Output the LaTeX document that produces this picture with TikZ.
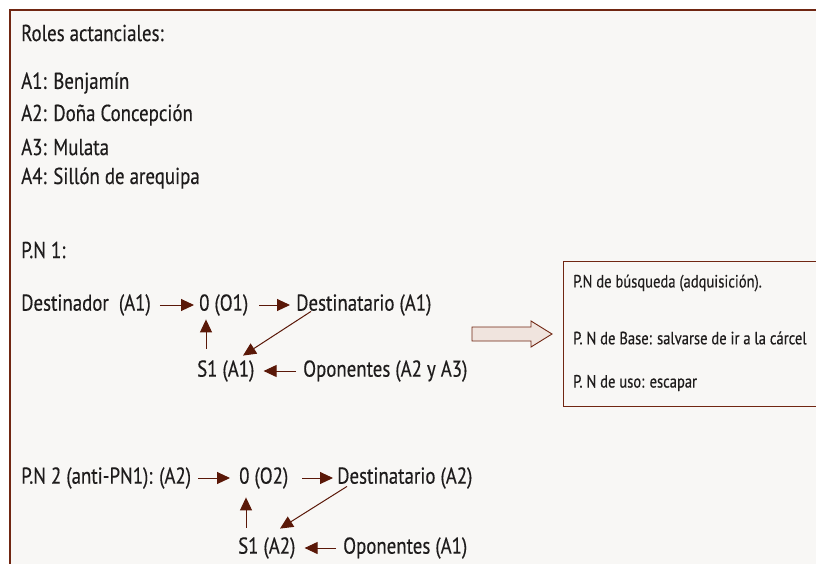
\documentclass[tikz,border=0pt]{standalone}
\usepackage{fontspec}
\setmainfont[FakeStretch=0.82,FakeBold=0.35]{PT Sans}
\usetikzlibrary{arrows.meta}
\usetikzlibrary{calc}
\definecolor{framebrown}{RGB}{112,38,18}
\definecolor{arrowbrown}{RGB}{90,24,8}
\definecolor{paper}{RGB}{248,247,245}
\definecolor{tan}{RGB}{240,228,222}
\definecolor{inkgray}{RGB}{30,28,28}
\tikzset{
    txt/.style={anchor=west, inner sep=0pt, text=inkgray, font=\fontsize{23}{27}\selectfont},
    smalltxt/.style={anchor=west, inner sep=0pt, text=inkgray, font=\fontsize{17.8}{21}\selectfont},
    arr/.style={draw=arrowbrown, line width=1pt, -{Triangle[length=13pt,width=12pt]}}
}
\begin{document}
\begin{tikzpicture}[x=1pt, y=-1pt]
            \useasboundingbox (0,0) rectangle (816,563);
            % Paper and frame
            \fill[paper] (10,10) rectangle (830,580);
            \draw[framebrown, line width=2.6pt] (10,580) -- (10,10) -- (830,10);

            % Roles
            \node[txt] (roles) at (21,33) {Roles actanciales:};
            \node[txt] (a1) at (21,83) {A1: Benjamín};
            \node[txt] (a2) at (21,115) {A2: Doña Concepción};
            \node[txt] (a3) at (21,147) {A3: Mulata};
            \node[txt] (a4) at (21,178) {A4: Sillón de arequipa};

            % P.N 1
            \node[txt] (pn1) at (21,250) {P.N 1:};
            \node[txt] (dest1) at (21,305) {Destinador~~(A1)};
            \node[txt] (o1) at (199,305) {0 (O1)};
            \node[txt] (dta1) at (296,305) {Destinatario (A1)};
            \node[txt] (s1) at (197,371) {S1 (A1)};
            \node[txt] (op1) at (303,371) {Oponentes (A2 y A3)};
            \draw[arr, shorten <=9pt, shorten >=5pt] (dest1.east) -- (o1.west);
            \draw[arr, shorten <=11pt, shorten >=6pt] (o1.east) -- (dta1.west);
            \draw[arr] ($(dta1.south west)+(15,-4.5)$) -- ($(s1.north west)+(46,-4.5)$);
            \draw[arr, shorten <=11.5pt, shorten >=3.5pt] ($(o1.south west |- s1.north)+(7,0)$) -- ($(o1.south west)+(7,0)$);
            \draw[arr, shorten <=7pt, shorten >=9pt] (op1.west) -- (s1.east);

            % Box arrow
            \draw[framebrown, fill=tan, line width=0.9pt] (472,327) -- (531,327) -- (531,321) -- (552,334)
                -- (531,347) -- (531,341) -- (472,341) -- cycle;

            % Box
            \draw[framebrown, fill=paper, line width=0.8pt] (830,261) -- (563,261) -- (563,406) -- (830,406);
            \node[smalltxt] (busq) at (573,283) {P.N de búsqueda (adquisición).};
            \node[smalltxt] (base) at (573,338) {P. N de Base: salvarse de ir a la cárcel};
            \node[smalltxt] (uso) at (573,383) {P. N de uso: escapar};

            % P.N 2
            \node[txt] (pn2) at (21,478) {P.N 2 (anti-PN1): (A2)};
            \node[txt] (o2) at (239,478) {0 (O2)};
            \node[txt] (dta2) at (337,478) {Destinatario (A2)};
            \node[txt] (s2) at (238,548) {S1 (A2)};
            \node[txt] (op2) at (343,548) {Oponentes (A1)};
            \draw[arr, shorten <=7pt, shorten >=9pt] (pn2.east) -- (o2.west);
            \draw[arr, shorten <=14pt, shorten >=4pt] (o2.east) -- (dta2.west);
            \draw[arr] ($(dta2.south west)+(10,-2.5)$) -- ($(s2.north west)+(42,-8.5)$);
            \draw[arr, shorten <=9.5pt, shorten >=8.5pt] ($(o2.south west |- s2.north)+(7,0)$) -- ($(o2.south west)+(7,0)$);
            \draw[arr, shorten <=7pt, shorten >=9pt] (op2.west) -- (s2.east);
\end{tikzpicture}
\end{document}
